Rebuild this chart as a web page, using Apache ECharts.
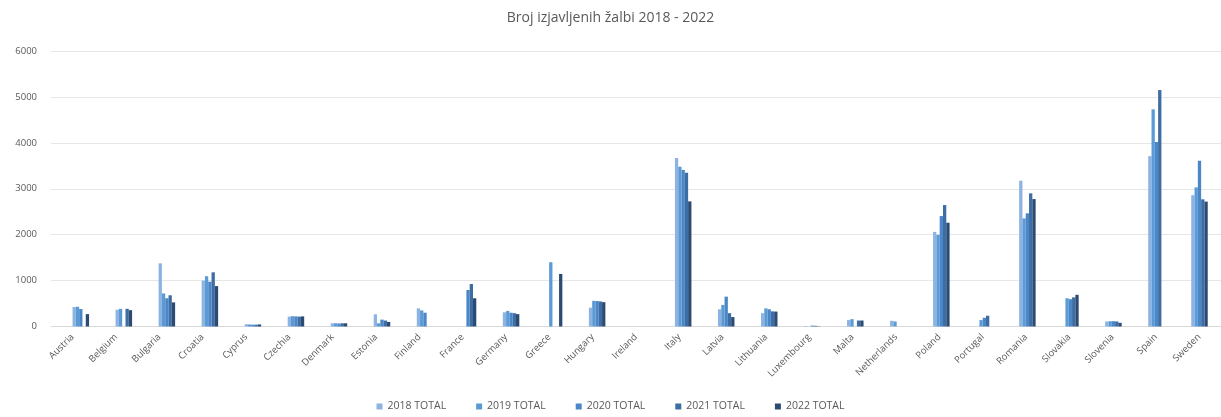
<!DOCTYPE html>
<html>
<head>
<meta charset="utf-8">
<script src="https://cdn.jsdelivr.net/npm/echarts@6/dist/echarts.min.js"></script>
<style>html,body{margin:0;padding:0;background:#fff}#c{width:1221px;height:417px}</style>
</head>
<body>
<div id="c"></div>
<script>
const categories = ['Austria','Belgium','Bulgaria','Croatia','Cyprus','Czechia','Denmark','Estonia','Finland','France','Germany','Greece','Hungary','Ireland','Italy','Latvia','Lithuania','Luxembourg','Malta','Netherlands','Poland','Portugal','Romania','Slovakia','Slovenia','Spain','Sweden'];
const seriesNames = ['2018 TOTAL','2019 TOTAL','2020 TOTAL','2021 TOTAL','2022 TOTAL'];
const total2018 = [425,365,1375,1000,50,215,70,265,395,0,310,0,410,0,3670,375,290,10,140,125,2060,0,3175,0,110,3710,2860];
const total2019 = [430,385,720,1095,45,225,70,70,350,0,340,1400,560,0,3480,470,395,0,160,110,1995,140,2355,615,115,4730,3030];
const total2020 = [380,0,615,975,40,220,65,150,300,795,300,0,555,0,3410,650,375,20,0,0,2405,190,2465,595,115,4020,3610];
const total2021 = [0,385,680,1180,40,215,70,130,0,925,290,0,545,0,3350,290,330,15,130,0,2645,235,2900,635,110,5150,2770];
const total2022 = [270,355,525,880,45,220,70,100,0,615,270,1145,530,0,2725,205,325,5,130,0,2260,0,2775,690,80,0,2720];
const yTicks = [0,1000,2000,3000,4000,5000,6000];

const colors = ['#8DB3E2','#5B9BD5','#4A86C8','#3D6DA3','#2C4B73'];
const values = [total2018,total2019,total2020,total2021,total2022];

const chart = echarts.init(document.getElementById('c'), null, {renderer:'canvas'});
const gridTop = 51, gridH = 275.5, gridW = 1174;
chart.setOption({
  animation:false,
  color: colors,
  title:{text:'Broj izjavljenih žalbi 2018 - 2022', left:'center', top:6,
    textStyle:{fontFamily:'Open Sans', fontSize:14, fontWeight:'normal', color:'#595959'}},
  legend:{bottom:0, left:'center', itemWidth:6, itemHeight:6, itemGap:30, icon:'rect',
    data: seriesNames,
    textStyle:{fontFamily:'Open Sans', fontSize:10.5, color:'#595959'}},
  grid:[
    {left:51, top:gridTop, width:gridW, height:gridH},
    {left:59.3, top:gridTop, width:gridW, height:gridH}
  ],
  xAxis:[
    {type:'category', gridIndex:0, data:categories, boundaryGap:true,
      axisLine:{lineStyle:{color:'#D9D9D9'}}, axisTick:{show:false},
      axisLabel:{rotate:45, interval:0, margin:9, fontFamily:'Open Sans', fontSize:9.5, color:'#595959'}},
    {type:'category', gridIndex:1, data:categories, show:false}
  ],
  yAxis:[
    {type:'value', gridIndex:0, min:yTicks[0], max:yTicks[yTicks.length-1], interval:1000,
      axisLine:{show:false}, axisTick:{show:false},
      axisLabel:{margin:14, fontFamily:'Open Sans', fontSize:9.5, color:'#595959', formatter:(v)=>String(v)},
      splitLine:{lineStyle:{color:'#E6E6E6'}}},
    {type:'value', gridIndex:1, min:yTicks[0], max:yTicks[yTicks.length-1], show:false, splitLine:{show:false}}
  ],
  series: seriesNames.map((n,i)=>({
    name:n, type:'bar', xAxisIndex:1, yAxisIndex:1, data:values[i],
    barWidth:3.3, barGap:'0%', itemStyle:{color:colors[i]}
  }))
});
</script>
</body>
</html>
